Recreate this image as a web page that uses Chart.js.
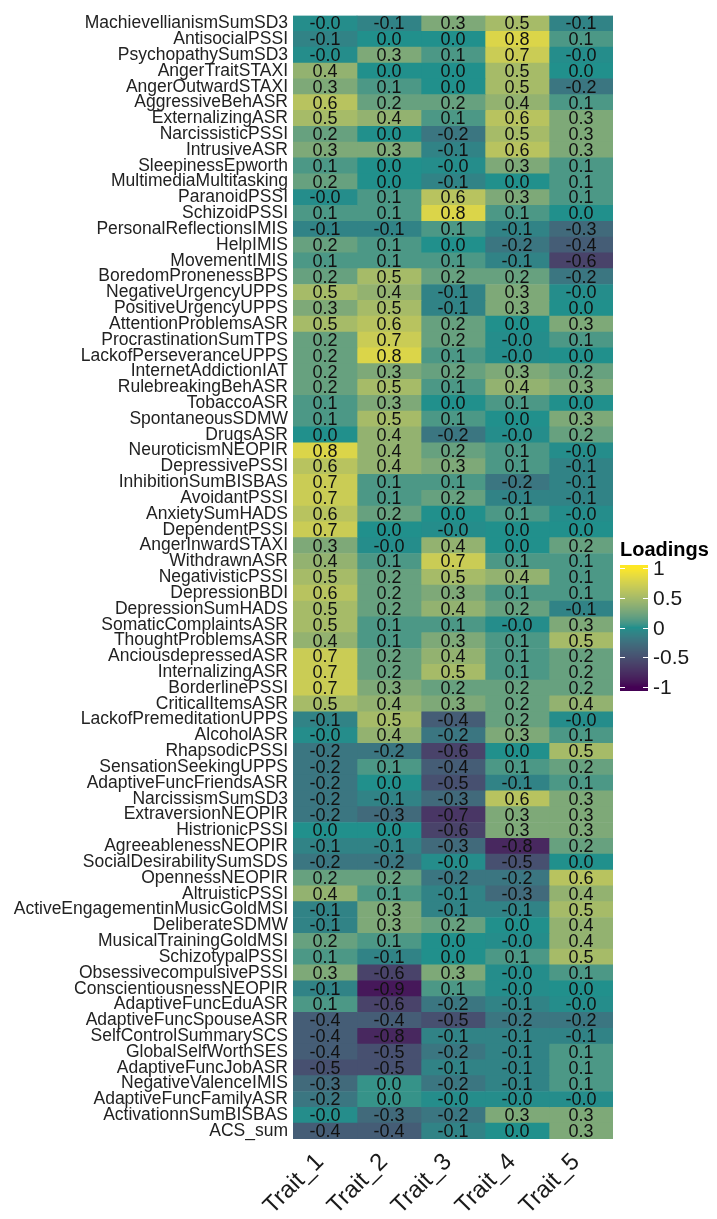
<!DOCTYPE html>
<html>
<head>
<meta charset="utf-8">
<title>Loadings heatmap</title>
<script src="https://cdn.jsdelivr.net/npm/chart.js@4.4.1/dist/chart.umd.min.js"></script>
<style>
  html, body { margin: 0; padding: 0; background: #fff; }
  canvas { display: block; }
</style>
</head>
<body>
<canvas id="heat" width="717" height="1219"></canvas>
<script>
// 1. Data (rows top to bottom)
const measures = [
  'MachievellianismSumSD3', 'AntisocialPSSI', 'PsychopathySumSD3', 'AngerTraitSTAXI', 'AngerOutwardSTAXI',
  'AggressiveBehASR', 'ExternalizingASR', 'NarcissisticPSSI', 'IntrusiveASR', 'SleepinessEpworth',
  'MultimediaMultitasking', 'ParanoidPSSI', 'SchizoidPSSI', 'PersonalReflectionsIMIS', 'HelpIMIS',
  'MovementIMIS', 'BoredomPronenessBPS', 'NegativeUrgencyUPPS', 'PositiveUrgencyUPPS', 'AttentionProblemsASR',
  'ProcrastinationSumTPS', 'LackofPerseveranceUPPS', 'InternetAddictionIAT', 'RulebreakingBehASR', 'TobaccoASR',
  'SpontaneousSDMW', 'DrugsASR', 'NeuroticismNEOPIR', 'DepressivePSSI', 'InhibitionSumBISBAS',
  'AvoidantPSSI', 'AnxietySumHADS', 'DependentPSSI', 'AngerInwardSTAXI', 'WithdrawnASR',
  'NegativisticPSSI', 'DepressionBDI', 'DepressionSumHADS', 'SomaticComplaintsASR', 'ThoughtProblemsASR',
  'AnciousdepressedASR', 'InternalizingASR', 'BorderlinePSSI', 'CriticalItemsASR', 'LackofPremeditationUPPS',
  'AlcoholASR', 'RhapsodicPSSI', 'SensationSeekingUPPS', 'AdaptiveFuncFriendsASR', 'NarcissismSumSD3',
  'ExtraversionNEOPIR', 'HistrionicPSSI', 'AgreeablenessNEOPIR', 'SocialDesirabilitySumSDS', 'OpennessNEOPIR',
  'AltruisticPSSI', 'ActiveEngagementinMusicGoldMSI', 'DeliberateSDMW', 'MusicalTrainingGoldMSI', 'SchizotypalPSSI',
  'ObsessivecompulsivePSSI', 'ConscientiousnessNEOPIR', 'AdaptiveFuncEduASR', 'AdaptiveFuncSpouseASR', 'SelfControlSummarySCS',
  'GlobalSelfWorthSES', 'AdaptiveFuncJobASR', 'NegativeValenceIMIS', 'AdaptiveFuncFamilyASR', 'ActivationnSumBISBAS',
  'ACS_sum'
];

const traits = ['Trait_1', 'Trait_2', 'Trait_3', 'Trait_4', 'Trait_5'];

const trait1 = [
  -0.02, -0.1, -0.02, 0.4, 0.3, 0.6, 0.5, 0.2, 0.3, 0.1,
  0.2, -0.02, 0.1, -0.1, 0.2, 0.1, 0.2, 0.5, 0.3, 0.5,
  0.2, 0.2, 0.2, 0.2, 0.1, 0.1, 0.0, 0.8, 0.6, 0.7,
  0.7, 0.6, 0.7, 0.3, 0.4, 0.5, 0.6, 0.5, 0.5, 0.4,
  0.7, 0.7, 0.7, 0.5, -0.1, -0.02, -0.2, -0.2, -0.2, -0.2,
  -0.2, 0.0, -0.1, -0.2, 0.2, 0.4, -0.1, -0.1, 0.2, 0.1,
  0.3, -0.1, 0.1, -0.4, -0.4, -0.4, -0.5, -0.3, -0.2, -0.02,
  -0.4
];
const trait2 = [
  -0.1, 0.0, 0.3, 0.0, 0.1, 0.2, 0.4, 0.0, 0.3, 0.0,
  0.0, 0.1, 0.1, -0.1, 0.1, 0.1, 0.5, 0.4, 0.5, 0.6,
  0.7, 0.8, 0.3, 0.5, 0.3, 0.5, 0.4, 0.4, 0.4, 0.1,
  0.1, 0.2, 0.0, -0.02, 0.1, 0.2, 0.2, 0.2, 0.1, 0.1,
  0.2, 0.2, 0.3, 0.4, 0.5, 0.4, -0.2, 0.1, 0.0, -0.1,
  -0.3, 0.0, -0.1, -0.2, 0.2, 0.1, 0.3, 0.3, 0.1, -0.1,
  -0.6, -0.9, -0.6, -0.4, -0.8, -0.5, -0.5, 0.04, 0.04, -0.3,
  -0.4
];
const trait3 = [
  0.3, 0.0, 0.1, 0.0, 0.0, 0.2, 0.1, -0.2, -0.1, -0.02,
  -0.1, 0.6, 0.8, 0.1, 0.0, 0.1, 0.2, -0.1, -0.1, 0.2,
  0.2, 0.1, 0.2, 0.1, 0.0, 0.1, -0.2, 0.2, 0.3, 0.1,
  0.2, 0.0, -0.02, 0.4, 0.7, 0.5, 0.3, 0.4, 0.1, 0.3,
  0.4, 0.5, 0.2, 0.3, -0.4, -0.2, -0.6, -0.4, -0.5, -0.3,
  -0.7, -0.6, -0.3, -0.02, -0.2, -0.1, -0.1, 0.2, 0.0, 0.0,
  0.3, 0.1, -0.2, -0.5, -0.1, -0.2, -0.1, -0.2, -0.02, -0.2,
  -0.1
];
const trait4 = [
  0.5, 0.8, 0.7, 0.5, 0.5, 0.4, 0.6, 0.5, 0.6, 0.3,
  0.0, 0.3, 0.1, -0.1, -0.2, -0.1, 0.2, 0.3, 0.3, 0.0,
  -0.02, -0.02, 0.3, 0.4, 0.1, 0.0, -0.02, 0.1, 0.1, -0.2,
  -0.1, 0.1, 0.0, 0.0, 0.1, 0.4, 0.1, 0.2, -0.02, 0.1,
  0.1, 0.1, 0.2, 0.2, 0.2, 0.3, 0.0, 0.1, -0.1, 0.6,
  0.3, 0.3, -0.8, -0.5, -0.2, -0.3, -0.1, 0.0, -0.02, 0.1,
  -0.02, -0.02, -0.1, -0.2, -0.1, -0.1, -0.1, -0.1, -0.02, 0.3,
  0.0
];
const trait5 = [
  -0.1, 0.1, -0.02, 0.0, -0.2, 0.1, 0.3, 0.3, 0.3, 0.1,
  0.1, 0.1, 0.0, -0.3, -0.4, -0.6, -0.2, -0.02, 0.0, 0.3,
  0.1, 0.0, 0.2, 0.3, 0.0, 0.3, 0.2, -0.02, -0.1, -0.1,
  -0.1, -0.02, 0.0, 0.2, 0.1, 0.1, 0.1, -0.1, 0.3, 0.5,
  0.2, 0.2, 0.2, 0.4, -0.02, 0.1, 0.5, 0.2, 0.1, 0.3,
  0.3, 0.3, 0.2, 0.0, 0.6, 0.4, 0.5, 0.4, 0.4, 0.5,
  0.1, 0.0, -0.02, -0.2, -0.1, 0.1, 0.1, 0.1, -0.02, 0.3,
  0.3
];

const loadings = [trait1, trait2, trait3, trait4, trait5];
const legendTicks = [1, 0.5, 0, -0.5, -1];

// 2. Theme
const Config = {
  font: "'Liberation Sans', Arial, sans-serif",
  stops: ['#440154', '#21908C', '#FDE725'], // viridis(3), blended in Lab
  limits: [-1, 1]
};

// 3. Colour scale (gradientn in CIELAB)
const Lab = {
  toLinear(c) { c /= 255; return c <= 0.04045 ? c / 12.92 : Math.pow((c + 0.055) / 1.055, 2.4); },
  toGamma(c) { c = c <= 0.0031308 ? 12.92 * c : 1.055 * Math.pow(c, 1 / 2.4) - 0.055; return Math.round(Math.min(1, Math.max(0, c)) * 255); },
  fromHex(hex) {
    const n = parseInt(hex.slice(1), 16);
    const r = this.toLinear(n >> 16 & 255), g = this.toLinear(n >> 8 & 255), b = this.toLinear(n & 255);
    const X = (0.4124 * r + 0.3576 * g + 0.1805 * b) / 0.95047;
    const Y = 0.2126 * r + 0.7152 * g + 0.0722 * b;
    const Z = (0.0193 * r + 0.1192 * g + 0.9505 * b) / 1.08883;
    const f = t => t > 0.008856 ? Math.cbrt(t) : 7.787 * t + 16 / 116;
    const fx = f(X), fy = f(Y), fz = f(Z);
    return [116 * fy - 16, 500 * (fx - fy), 200 * (fy - fz)];
  },
  toRgb([L, a, bb]) {
    const fy = (L + 16) / 116, fx = fy + a / 500, fz = fy - bb / 200;
    const inv = t => t * t * t > 0.008856 ? t * t * t : (t - 16 / 116) / 7.787;
    const X = inv(fx) * 0.95047, Y = inv(fy), Z = inv(fz) * 1.08883;
    const r = 3.2406 * X - 1.5372 * Y - 0.4986 * Z;
    const g = -0.9689 * X + 1.8758 * Y + 0.0415 * Z;
    const b = 0.0557 * X - 0.2040 * Y + 1.0570 * Z;
    return `rgb(${this.toGamma(r)},${this.toGamma(g)},${this.toGamma(b)})`;
  }
};
const labStops = Config.stops.map(h => Lab.fromHex(h));

function fillFor(v) {
  const [lo, hi] = Config.limits;
  const t = Math.min(1, Math.max(0, (v - lo) / (hi - lo))) * (labStops.length - 1);
  const k = Math.min(labStops.length - 2, Math.floor(t));
  const u = t - k;
  const a = labStops[k], b = labStops[k + 1];
  return Lab.toRgb(a.map((c, i) => c + (b[i] - c) * u));
}

// 4. Plugins: cell text + colourbar legend
const cellLabels = {
  id: 'cellLabels',
  afterDatasetsDraw(chart) {
    const ctx = chart.ctx;
    ctx.save();
    ctx.font = `18px ${Config.font}`;
    ctx.fillStyle = '#111';
    ctx.textAlign = 'center';
    ctx.textBaseline = 'middle';
    chart.data.datasets.forEach((ds, j) => {
      chart.getDatasetMeta(j).data.forEach((bar, i) => {
        ctx.fillText(ds.loadings[i].toFixed(1), (bar.x + bar.base) / 2, bar.y + 1);
      });
    });
    ctx.restore();
  }
};

const colourbar = {
  id: 'colourbar',
  afterDraw(chart) {
    const ctx = chart.ctx;
    const x0 = chart.chartArea.right + 7;
    const w = 28, top = 565, bottom = 691;
    const yOf = v => 627.5 - v * 59.5;
    ctx.save();
    ctx.fillStyle = '#000';
    ctx.font = `bold 20px ${Config.font}`;
    ctx.textBaseline = 'alphabetic';
    ctx.fillText('Loadings', x0, 556);
    for (let y = top; y < bottom; y++) {
      ctx.fillStyle = fillFor((627.5 - (y + 0.5)) / 59.5);
      ctx.fillRect(x0, y, w, 1);
    }
    ctx.strokeStyle = '#fff';
    ctx.lineWidth = 1;
    ctx.font = `21px ${Config.font}`;
    ctx.fillStyle = '#1a1a1a';
    ctx.textBaseline = 'middle';
    legendTicks.forEach(v => {
      const y = Math.round(yOf(v)) + 0.5;
      ctx.beginPath();
      ctx.moveTo(x0, y); ctx.lineTo(x0 + 5, y);
      ctx.moveTo(x0 + w - 5, y); ctx.lineTo(x0 + w, y);
      ctx.stroke();
      ctx.fillText(String(v), x0 + w + 5, y + 1);
    });
    ctx.restore();
  }
};

// 5. Chart
const datasets = loadings.map((vals, j) => ({
  label: traits[j],
  loadings: vals,
  data: vals.map(() => [j, j + 1]),
  backgroundColor: vals.map(fillFor),
  borderWidth: 0,
  grouped: false,
  barPercentage: 1,
  categoryPercentage: 1
}));

new Chart(document.getElementById('heat'), {
  type: 'bar',
  data: { labels: measures, datasets },
  options: {
    indexAxis: 'y',
    responsive: false,
    animation: false,
    layout: { padding: { top: 7, right: 104, left: 0, bottom: 0 } },
    plugins: { legend: { display: false }, tooltip: { enabled: false } },
    scales: {
      x: {
        type: 'linear', min: 0, max: 5,
        grid: { display: false, drawTicks: false },
        border: { display: false },
        // labels hang a few px left of the column centre (ggplot hjust = 1)
        afterBuildTicks: s => { s.ticks = traits.map((t, i) => ({ value: i + 0.42 })); },
        afterFit: s => { s.height = 80; },
        ticks: {
          autoSkip: false, minRotation: 45, maxRotation: 45, padding: 9,
          color: '#1a1a1a', font: { family: Config.font, size: 24 },
          callback: v => traits[Math.floor(v)]
        }
      },
      y: {
        grid: { display: false, drawTicks: false },
        border: { display: false },
        afterFit: s => { s.width = 293; },
        ticks: { autoSkip: false, padding: 5, color: '#222', font: { family: Config.font, size: 17.5 } }
      }
    }
  },
  plugins: [cellLabels, colourbar]
});
</script>
</body>
</html>
